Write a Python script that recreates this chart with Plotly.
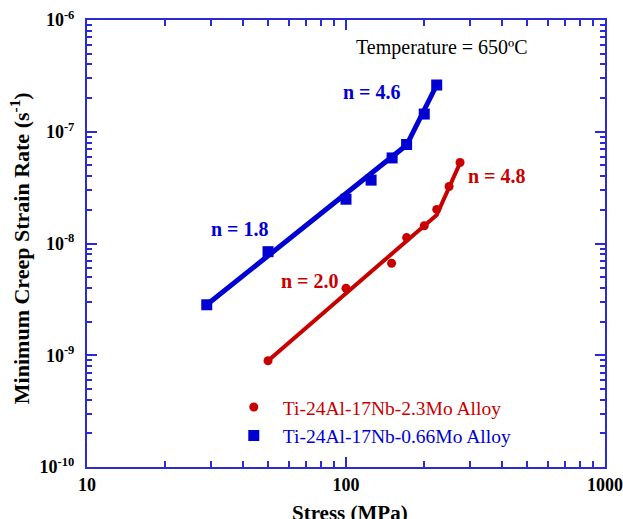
import math
import plotly.graph_objects as go

# ---- data ----
blue_stress = [29, 50, 100, 125, 150.7, 171.4, 200.5, 224]
blue_rate = [2.83e-9, 8.45e-9, 2.49e-8, 3.69e-8, 5.83e-8, 7.69e-8, 1.44e-7, 2.62e-7]
blue_fit_stress = [29, 171.4, 224]
blue_fit_rate = [2.83e-9, 7.6e-8, 2.62e-7]

red_stress = [50, 100, 150, 171.4, 200.5, 224, 250, 275.6]
red_rate = [8.93e-10, 3.98e-9, 6.65e-9, 1.13e-8, 1.44e-8, 2.02e-8, 3.24e-8, 5.31e-8]
red_fit_stress = [50, 224, 276]
red_fit_rate = [8.93e-10, 1.8e-8, 5.3e-8]

x_tickvals = [10, 100, 1000]
x_ticktext = ["10", "100", "1000"]
y_tickvals = [1e-10, 1e-9, 1e-8, 1e-7, 1e-6]
y_ticktext = ["10<sup>-10</sup>", "10<sup>-9</sup>", "10<sup>-8</sup>", "10<sup>-7</sup>", "10<sup>-6</sup>"]
x_minor = [m * d for d in (10, 100) for m in range(2, 10)]
y_minor = [m * d for d in (1e-10, 1e-9, 1e-8, 1e-7) for m in range(2, 10)]

BLUE = "#0000d2"
RED = "#c80000"
AXIS = "#2a2ad8"
FONT = "Liberation Serif"

fig = go.Figure()
fig.add_trace(go.Scatter(x=blue_fit_stress, y=blue_fit_rate, mode="lines",
                         line=dict(color=BLUE, width=5), showlegend=False, hoverinfo="skip"))
fig.add_trace(go.Scatter(x=red_fit_stress, y=red_fit_rate, mode="lines",
                         line=dict(color=RED, width=4), showlegend=False, hoverinfo="skip"))
fig.add_trace(go.Scatter(x=red_stress, y=red_rate, mode="markers",
                         marker=dict(symbol="circle", size=9, color=RED),
                         name='<span style="color:#c80000">Ti-24Al-17Nb-2.3Mo Alloy</span>'))
fig.add_trace(go.Scatter(x=blue_stress, y=blue_rate, mode="markers",
                         marker=dict(symbol="square", size=11, color=BLUE),
                         name='<span style="color:#0000d2">Ti-24Al-17Nb-0.66Mo Alloy</span>'))

axis_common = dict(
    type="log", showgrid=False, zeroline=False, automargin=False,
    showline=True, linecolor=AXIS, linewidth=2, mirror="ticks",
    ticks="inside", ticklen=10, tickwidth=1.5, tickcolor=AXIS,
    tickfont=dict(family=FONT, size=18, color="black", weight="bold"),
    tickmode="array",
)

fig.update_layout(
    width=623, height=519,
    margin=dict(l=87, r=18, t=19.5, b=51.5),
    paper_bgcolor="white", plot_bgcolor="white",
    font=dict(family=FONT, color="black"),
    xaxis=dict(axis_common, range=[1, 3], tickvals=x_tickvals, ticktext=x_ticktext,
               ticklabelstandoff=0,
               minor=dict(ticks="inside", ticklen=6, tickwidth=1.5, tickcolor=AXIS,
                          tickmode="array", tickvals=x_minor)),
    yaxis=dict(axis_common, range=[-10, -6], tickvals=y_tickvals, ticktext=y_ticktext,
               ticklabelstandoff=7,
               minor=dict(ticks="inside", ticklen=5, tickwidth=1.5, tickcolor=AXIS,
                          tickmode="array", tickvals=y_minor)),
    legend=dict(x=0.266, y=0.177, xanchor="left", yanchor="top",
                bgcolor="rgba(0,0,0,0)", itemwidth=48,
                font=dict(family=FONT, size=19.5)),
    showlegend=True,
)

def ann(text, lx, ly, color, size=20, bold=True):
    fig.add_annotation(x=lx, y=ly, xref="x", yref="y", text=text, showarrow=False,
                       font=dict(family=FONT, size=size, color=color,
                                 weight="bold" if bold else "normal"),
                       xanchor="center", yanchor="middle")

ann("Temperature = 650ºC", 2.371, -6.246, "black", bold=False)
ann("n = 4.6", 2.099, -6.647, BLUE)
ann("n = 4.8", 2.582, -7.395, RED)
ann("n = 1.8", 1.591, -7.871, BLUE)
ann("n = 2.0", 1.861, -8.335, RED)

fig.add_annotation(x=-0.129, y=0.49, xref="paper", yref="paper",
                   text="Minimum Creep Strain Rate (s<sup>-1</sup>)", textangle=-90,
                   showarrow=False, font=dict(family=FONT, size=22, weight="bold"),
                   xanchor="center", yanchor="middle")
fig.add_annotation(x=0.508, y=-0.102, xref="paper", yref="paper",
                   text="Stress (MPa)", showarrow=False,
                   font=dict(family=FONT, size=21, weight="bold"),
                   xanchor="center", yanchor="middle")

fig.write_html("out.html", config={"displayModeBar": False},
               post_script="document.body.style.margin='0';document.body.style.overflow='hidden';")
